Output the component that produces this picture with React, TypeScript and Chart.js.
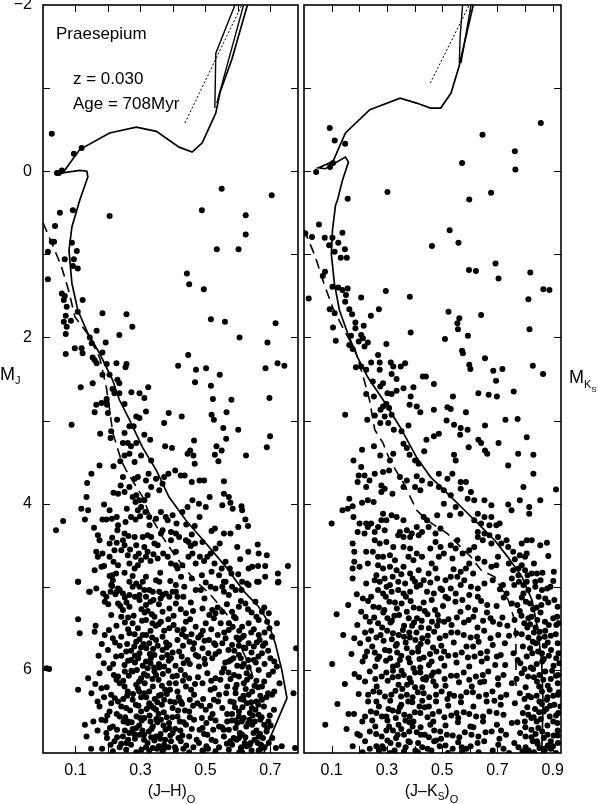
import React, { useEffect, useRef } from "react";
import { Chart, registerables } from "chart.js";

Chart.register(...registerables);

const FONT = '"Liberation Sans", Arial, Helvetica, sans-serif';

// ---- axes ----
const magMin = -2;
const magMax = 7;
const jhMin = 0;
const jhMax = 0.785;
const jkMin = 0;
const jkMax = 0.93;
const magLabelTicks = [-2, 0, 2, 4, 6];
const magMinorTicks = [-1, 0, 1, 2, 3, 4, 5, 6];
const jhLabelTicks = [0.1, 0.3, 0.5, 0.7];
const jhMinorTicks = [0.1, 0.2, 0.3, 0.4, 0.5, 0.6, 0.7];
const jkLabelTicks = [0.1, 0.3, 0.5, 0.7, 0.9];
const jkMinorTicks = [0.1, 0.2, 0.3, 0.4, 0.5, 0.6, 0.7, 0.8, 0.9];

// ---- isochrones (J-H, M_J) ----
const jhIsochrone = [
  [0.674, 7.05], [0.751, 6.34], [0.735, 6.0], [0.715, 5.68], [0.69, 5.4], [0.664, 5.24], [0.624, 5.08],
  [0.593, 4.92], [0.563, 4.76], [0.5, 4.47], [0.44, 4.2], [0.388, 3.92], [0.349, 3.6], [0.306, 3.32],
  [0.266, 2.99], [0.235, 2.75], [0.214, 2.51], [0.174, 2.19], [0.138, 1.95], [0.107, 1.67], [0.089, 1.35],
  [0.08, 0.95], [0.089, 0.67], [0.113, 0.35], [0.138, 0.07], [0.135, 0.0], [0.113, -0.01], [0.061, 0.02],
  [0.113, -0.26], [0.205, -0.46], [0.287, -0.53], [0.349, -0.48], [0.419, -0.29], [0.459, -0.23],
  [0.49, -0.34], [0.532, -0.7], [0.545, -0.95], [0.581, -1.34], [0.633, -2.05],
];
const jhLoopA = [[0.529, -0.76], [0.532, -1.42], [0.596, -2.05]];
const jhLoopB = [[0.535, -0.82], [0.621, -2.05]];
const jhDotted = [[0.437, -0.58], [0.612, -2.0]];
const jhZams = [
  [0.0, 0.62], [0.032, 0.91], [0.057, 1.15], [0.08, 1.45], [0.098, 1.75], [0.14, 1.97], [0.175, 2.25],
  [0.195, 2.6], [0.205, 2.87], [0.215, 3.15], [0.241, 3.48], [0.256, 3.6], [0.307, 3.92], [0.327, 4.12],
  [0.368, 4.4], [0.409, 4.64], [0.47, 4.94], [0.49, 5.0], [0.521, 5.12], [0.572, 5.36], [0.593, 5.6],
  [0.633, 5.92], [0.648, 6.1],
];

// ---- isochrones (J-Ks, M_Ks) ----
const jkIsochrone = [
  [0.86, 7.05], [0.865, 6.4], [0.86, 5.9], [0.845, 5.5], [0.825, 5.16], [0.789, 4.88], [0.737, 4.64],
  [0.69, 4.44], [0.627, 4.23], [0.569, 4.04], [0.517, 3.87], [0.458, 3.68], [0.407, 3.44], [0.348, 3.08],
  [0.286, 2.75], [0.231, 2.48], [0.194, 2.24], [0.158, 1.95], [0.128, 1.67], [0.11, 1.35], [0.099, 1.0],
  [0.103, 0.71], [0.114, 0.41], [0.121, 0.35], [0.139, 0.11], [0.161, -0.11], [0.15, -0.17], [0.103, -0.08],
  [0.077, -0.03], [0.052, -0.04], [0.08, -0.08], [0.105, -0.12], [0.15, -0.46], [0.238, -0.74],
  [0.348, -0.88], [0.407, -0.82], [0.458, -0.76], [0.495, -0.76], [0.532, -0.94], [0.561, -1.26],
  [0.616, -2.05],
];
const jkLoopA = [[0.562, -1.3], [0.565, -1.62], [0.575, -2.05]];
const jkLoopB = [[0.568, -1.3], [0.607, -2.05]];
const jkDotted = [[0.457, -1.06], [0.598, -2.0]];
const jkZams = [
  [0.0, 0.7], [0.04, 1.02], [0.072, 1.35], [0.105, 1.65], [0.148, 1.93], [0.185, 2.15], [0.215, 2.48],
  [0.237, 2.75], [0.256, 3.11], [0.286, 3.27], [0.311, 3.48], [0.36, 3.75], [0.408, 4.08], [0.445, 4.2],
  [0.482, 4.28], [0.519, 4.36], [0.567, 4.52], [0.604, 4.64], [0.641, 4.8], [0.69, 4.88], [0.739, 5.16],
  [0.762, 5.4], [0.767, 5.7], [0.767, 6.25],
];

// ---- stars: (J-H)o, M_J ----
const jhStars = [
  [0.027, -0.45], [0.095, -0.21], [0.119, -0.28], [0.043, 0.02], [0.049, 0.02], [0.058, -0.01], [0.55, 0.21], [0.704, 0.29],
  [0.052, 0.5], [0.092, 0.47], [0.205, 0.54], [0.037, 0.66], [0.027, 0.85], [0.034, 0.85], [0.015, 0.97], [0.089, 0.86],
  [0.104, 0.96], [0.067, 1.06], [0.095, 1.06], [0.092, 1.14], [0.107, 1.17], [0.015, 1.3], [0.058, 1.47], [0.067, 1.5],
  [0.064, 1.55], [0.073, 1.63], [0.122, 1.55], [0.107, 1.69], [0.183, 1.71], [0.257, 1.72], [0.07, 1.74], [0.064, 1.81],
  [0.086, 1.8], [0.073, 1.87], [0.07, 1.96], [0.165, 1.92], [0.275, 1.87], [0.235, 1.97], [0.144, 2.0], [0.193, 2.06],
  [0.15, 2.07], [0.098, 2.13], [0.119, 2.13], [0.122, 2.19], [0.07, 2.2], [0.183, 2.18], [0.153, 2.24], [0.159, 2.27],
  [0.165, 2.31], [0.226, 2.31], [0.257, 2.32], [0.254, 2.36], [0.196, 2.32], [0.183, 2.45], [0.205, 2.45], [0.229, 2.51],
  [0.235, 2.55], [0.153, 2.55], [0.116, 2.6], [0.214, 2.62], [0.22, 2.67], [0.272, 2.66], [0.297, 2.67], [0.324, 2.6],
  [0.235, 2.67], [0.312, 2.73], [0.196, 2.74],
  [0.489, 0.47], [0.624, 0.53], [0.624, 0.76], [0.535, 0.94], [0.602, 0.94], [0.443, 1.23], [0.45, 1.36], [0.495, 1.42],
  [0.517, 1.78], [0.56, 1.81], [0.605, 2.0], [0.716, 1.83], [0.691, 2.06], [0.447, 2.21], [0.416, 2.34], [0.471, 2.39],
  [0.502, 2.37], [0.544, 2.45], [0.468, 2.54], [0.517, 2.58], [0.685, 2.37], [0.722, 2.31], [0.743, 2.34], [0.523, 2.74],
  [0.58, 2.75], [0.697, 2.73],
  [0.164, 2.81], [0.18, 2.79], [0.195, 2.77], [0.197, 2.81], [0.159, 2.9], [0.2, 2.91], [0.251, 2.8], [0.317, 2.89],
  [0.287, 2.95], [0.297, 2.97], [0.228, 2.99], [0.373, 3.03], [0.387, 2.91], [0.427, 2.95], [0.519, 2.93], [0.526, 2.99],
  [0.565, 2.9], [0.088, 3.05], [0.176, 3.16], [0.21, 3.13], [0.208, 3.21], [0.251, 3.15], [0.266, 3.07], [0.279, 3.07],
  [0.312, 3.17], [0.33, 3.23], [0.376, 3.31], [0.397, 3.33], [0.465, 3.24], [0.601, 3.11], [0.555, 3.09], [0.699, 3.19],
  [0.689, 3.32], [0.564, 3.22], [0.534, 3.31], [0.55, 3.36], [0.529, 3.41], [0.54, 3.49], [0.463, 3.42], [0.445, 3.4],
  [0.453, 3.36], [0.467, 3.52], [0.625, 3.42], [0.174, 3.54], [0.217, 3.55], [0.238, 3.49], [0.246, 3.27], [0.261, 3.27],
  [0.271, 3.31], [0.287, 3.27], [0.266, 3.4], [0.282, 3.5], [0.251, 3.42], [0.302, 3.42], [0.333, 3.48], [0.407, 3.6],
  [0.424, 3.66], [0.436, 3.66], [0.386, 3.64], [0.373, 3.68], [0.348, 3.7], [0.325, 3.64], [0.317, 3.72], [0.292, 3.68],
  [0.282, 3.7], [0.246, 3.68], [0.266, 3.8], [0.239, 3.78], [0.251, 3.86], [0.231, 3.88], [0.217, 3.87], [0.276, 3.92],
  [0.287, 3.9], [0.297, 3.96], [0.285, 3.98], [0.292, 4.08], [0.302, 4.04], [0.312, 3.96], [0.322, 3.9], [0.333, 3.8],
  [0.358, 3.84], [0.368, 3.76], [0.149, 3.64], [0.136, 3.75], [0.134, 3.92], [0.118, 4.06], [0.139, 4.08], [0.129, 4.19],
  [0.062, 4.21], [0.04, 4.32], [0.188, 4.01], [0.205, 4.08], [0.227, 4.16], [0.231, 4.26], [0.183, 4.19], [0.195, 4.19],
  [0.254, 4.22], [0.258, 4.06], [0.271, 4.16], [0.299, 4.15], [0.285, 4.19], [0.315, 4.1], [0.327, 4.16], [0.348, 4.18],
  [0.363, 4.1], [0.378, 4.16], [0.384, 4.2], [0.368, 4.32], [0.363, 4.36], [0.399, 4.14], [0.411, 4.24], [0.429, 4.1],
  [0.445, 4.04], [0.46, 3.96], [0.48, 4.0], [0.501, 4.04], [0.513, 3.92], [0.482, 3.72], [0.496, 3.72], [0.458, 3.74],
  [0.557, 3.73], [0.557, 3.88], [0.572, 3.92], [0.577, 3.99], [0.552, 4.02], [0.584, 4.06], [0.611, 4.03], [0.613, 4.08],
  [0.623, 4.19], [0.631, 4.27], [0.601, 4.28], [0.577, 4.36], [0.557, 4.36], [0.529, 4.3], [0.519, 4.33], [0.482, 4.16],
  [0.467, 4.27], [0.458, 4.37], [0.44, 4.44], [0.448, 4.46], [0.468, 4.48], [0.455, 4.51], [0.46, 4.6], [0.448, 4.64],
  [0.47, 4.72], [0.483, 4.64], [0.496, 4.69], [0.506, 4.64], [0.516, 4.6], [0.531, 4.54], [0.519, 4.82], [0.542, 4.86],
  [0.55, 4.78], [0.562, 4.7], [0.575, 4.78], [0.58, 4.84], [0.601, 4.85], [0.598, 4.52], [0.544, 4.48], [0.661, 4.49],
  [0.664, 4.6], [0.633, 4.78], [0.644, 4.76], [0.662, 4.75], [0.684, 4.75], [0.754, 4.75], [0.684, 4.88], [0.723, 4.84],
  [0.723, 4.95], [0.659, 4.94], [0.628, 4.96], [0.611, 5.04], [0.582, 5.0], [0.562, 4.94], [0.552, 5.0], [0.557, 5.06],
  [0.593, 5.04], [0.572, 5.1], [0.47, 5.04], [0.435, 5.0], [0.432, 5.12], [0.409, 5.06], [0.389, 5.12], [0.368, 5.1],
  [0.338, 5.06], [0.358, 4.94], [0.348, 4.92], [0.317, 4.88], [0.307, 4.94], [0.287, 4.96], [0.266, 4.94], [0.276, 5.0],
  [0.297, 5.0], [0.236, 5.04], [0.227, 5.06], [0.21, 4.98], [0.205, 4.87], [0.213, 4.86], [0.225, 4.84], [0.231, 4.74],
  [0.217, 4.7], [0.205, 4.64], [0.188, 4.75], [0.169, 4.64], [0.164, 4.58], [0.183, 4.6], [0.169, 4.38], [0.174, 4.44],
  [0.205, 4.48], [0.213, 4.41], [0.227, 4.47], [0.246, 4.44], [0.251, 4.5], [0.241, 4.56], [0.22, 4.56], [0.261, 4.62],
  [0.266, 4.72], [0.282, 4.78], [0.292, 4.74], [0.302, 4.68], [0.285, 4.64], [0.295, 4.6], [0.317, 4.64], [0.322, 4.58],
  [0.312, 4.52], [0.343, 4.48], [0.353, 4.5], [0.333, 4.4], [0.322, 4.38], [0.307, 4.4], [0.282, 4.4], [0.263, 4.39],
  [0.251, 4.36], [0.287, 4.5], [0.34, 4.61], [0.353, 4.66], [0.37, 4.6], [0.384, 4.64], [0.394, 4.72], [0.409, 4.74],
  [0.414, 4.78], [0.429, 4.74], [0.409, 4.58], [0.394, 4.44], [0.394, 4.34], [0.409, 4.36], [0.419, 4.4], [0.108, 4.94],
  [0.142, 5.06], [0.164, 5.02], [0.185, 5.08], [0.208, 5.06], [0.195, 5.12], [0.159, 4.8], [0.18, 4.76], [0.215, 4.92],
  [0.231, 5.02], [0.246, 5.08], [0.266, 5.1], [0.297, 5.1], [0.317, 5.12], [0.327, 5.04],
  [0.108, 4.94], [0.144, 5.06], [0.213, 4.99], [0.312, 5.04], [0.358, 5.06], [0.378, 5.08], [0.399, 5.06], [0.409, 4.98],
  [0.414, 5.12], [0.486, 5.04], [0.516, 5.0], [0.531, 5.02], [0.557, 4.94], [0.613, 4.94], [0.633, 4.98], [0.664, 4.94],
  [0.725, 4.94], [0.72, 5.44], [0.779, 5.74],
  [0.19, 5.18], [0.231, 5.2], [0.246, 5.28], [0.266, 5.24], [0.297, 5.16], [0.317, 5.22], [0.34, 5.16], [0.368, 5.3],
  [0.389, 5.26], [0.409, 5.2], [0.44, 5.32], [0.491, 5.26], [0.531, 5.32], [0.552, 5.3], [0.582, 5.3], [0.603, 5.24],
  [0.623, 5.2], [0.654, 5.18], [0.674, 5.3], [0.695, 5.32],
  [0.108, 5.39], [0.159, 5.54], [0.21, 5.34], [0.241, 5.36], [0.276, 5.44], [0.292, 5.5], [0.317, 5.4], [0.343, 5.36],
  [0.363, 5.42], [0.389, 5.5], [0.414, 5.52], [0.44, 5.42], [0.47, 5.48], [0.501, 5.44], [0.526, 5.38], [0.547, 5.44],
  [0.572, 5.44], [0.593, 5.38], [0.613, 5.48], [0.633, 5.44], [0.664, 5.4], [0.69, 5.42],
  [0.113, 5.56], [0.19, 5.58], [0.215, 5.62], [0.241, 5.6], [0.266, 5.56], [0.287, 5.66], [0.307, 5.58], [0.327, 5.68],
  [0.348, 5.64], [0.368, 5.6], [0.389, 5.7], [0.414, 5.64], [0.44, 5.6], [0.465, 5.68], [0.486, 5.58], [0.511, 5.64],
  [0.531, 5.7], [0.562, 5.62], [0.582, 5.7], [0.603, 5.64], [0.633, 5.68], [0.664, 5.58], [0.684, 5.68], [0.705, 5.6],
  [0.2, 5.76], [0.225, 5.84], [0.256, 5.78], [0.271, 5.88], [0.297, 5.8], [0.317, 5.9], [0.343, 5.82], [0.368, 5.76],
  [0.394, 5.86], [0.419, 5.78], [0.445, 5.88], [0.47, 5.82], [0.491, 5.74], [0.521, 5.86], [0.542, 5.78], [0.572, 5.9],
  [0.603, 5.82], [0.623, 5.74], [0.649, 5.88], [0.674, 5.8], [0.7, 5.86],
  [0.011, 5.98], [0.019, 5.99], [0.139, 6.1], [0.174, 6.04], [0.205, 5.98], [0.231, 6.08], [0.251, 5.94], [0.276, 6.02],
  [0.302, 6.1], [0.322, 5.98], [0.348, 6.06], [0.373, 5.96], [0.399, 6.08], [0.424, 6.0], [0.45, 6.1], [0.48, 5.96],
  [0.506, 6.04], [0.531, 6.1], [0.557, 5.98], [0.588, 6.06], [0.613, 5.96], [0.639, 6.08], [0.664, 6.0], [0.695, 6.06],
  [0.72, 5.96],
  [0.108, 6.24], [0.149, 6.28], [0.18, 6.22], [0.21, 6.3], [0.236, 6.16], [0.261, 6.26], [0.287, 6.18], [0.312, 6.28],
  [0.338, 6.2], [0.363, 6.3], [0.389, 6.16], [0.414, 6.26], [0.44, 6.2], [0.465, 6.3], [0.491, 6.16], [0.516, 6.24],
  [0.542, 6.3], [0.567, 6.2], [0.593, 6.28], [0.618, 6.16], [0.644, 6.26], [0.674, 6.2], [0.705, 6.3], [0.771, 6.28],
  [0.174, 6.44], [0.205, 6.5], [0.231, 6.38], [0.256, 6.46], [0.276, 6.36], [0.302, 6.5], [0.327, 6.4], [0.348, 6.48],
  [0.373, 6.36], [0.399, 6.46], [0.424, 6.38], [0.45, 6.5], [0.475, 6.4], [0.501, 6.48], [0.526, 6.36], [0.552, 6.46],
  [0.577, 6.38], [0.603, 6.5], [0.628, 6.4], [0.654, 6.48], [0.674, 6.36],
  [0.129, 6.66], [0.18, 6.6], [0.215, 6.68], [0.236, 6.56], [0.261, 6.64], [0.287, 6.7], [0.312, 6.58], [0.338, 6.68],
  [0.363, 6.6], [0.389, 6.7], [0.414, 6.56], [0.44, 6.66], [0.465, 6.6], [0.491, 6.7], [0.516, 6.58], [0.542, 6.68],
  [0.567, 6.62], [0.593, 6.7], [0.618, 6.58], [0.644, 6.66], [0.669, 6.6], [0.69, 6.7],
  [0.134, 6.8], [0.195, 6.76], [0.22, 6.86], [0.246, 6.8], [0.271, 6.9], [0.297, 6.78], [0.322, 6.88], [0.348, 6.8],
  [0.373, 6.9], [0.399, 6.76], [0.424, 6.86], [0.45, 6.8], [0.48, 6.88], [0.506, 6.78], [0.531, 6.86], [0.557, 6.8],
  [0.582, 6.9], [0.613, 6.78], [0.639, 6.88], [0.664, 6.8], [0.695, 6.88], [0.735, 6.92],
  [0.215, 6.98], [0.256, 6.96], [0.287, 6.99], [0.327, 6.97], [0.368, 6.98], [0.409, 6.96], [0.45, 6.99], [0.491, 6.97],
  [0.531, 6.98], [0.572, 6.96], [0.613, 6.99], [0.664, 6.97], [0.776, 6.94],
  [0.252, 5.13], [0.303, 5.27], [0.335, 5.33], [0.357, 5.21], [0.402, 5.35], [0.455, 5.19], [0.512, 5.34], [0.538, 5.25],
  [0.609, 5.17], [0.642, 5.31], [0.226, 5.47], [0.262, 5.51], [0.331, 5.53], [0.356, 5.45], [0.428, 5.57], [0.492, 5.53],
  [0.558, 5.55], [0.618, 5.59], [0.682, 5.55], [0.236, 5.71], [0.281, 5.72], [0.309, 5.69], [0.339, 5.75], [0.381, 5.73],
  [0.431, 5.71], [0.462, 5.75], [0.509, 5.8], [0.589, 5.77], [0.642, 5.79], [0.216, 5.93], [0.262, 5.89], [0.289, 6.0],
  [0.332, 5.86], [0.357, 5.93], [0.387, 5.89], [0.452, 5.93], [0.497, 5.87], [0.598, 5.95], [0.632, 5.88], [0.682, 5.93],
  [0.196, 6.21], [0.226, 6.12], [0.251, 6.2], [0.296, 6.14], [0.327, 6.26], [0.356, 6.12], [0.376, 6.24], [0.431, 6.13],
  [0.456, 6.24], [0.528, 6.22], [0.577, 6.11], [0.624, 6.23], [0.657, 6.13], [0.688, 6.33], [0.21, 6.4], [0.247, 6.35],
  [0.286, 6.42], [0.318, 6.33], [0.341, 6.46], [0.366, 6.42], [0.392, 6.38], [0.462, 6.43], [0.514, 6.43], [0.591, 6.45],
  [0.617, 6.36], [0.643, 6.46], [0.68, 6.44], [0.192, 6.61], [0.228, 6.72], [0.248, 6.62], [0.276, 6.71], [0.299, 6.58],
  [0.326, 6.74], [0.352, 6.63], [0.377, 6.72], [0.433, 6.63], [0.503, 6.64], [0.556, 6.72], [0.581, 6.61], [0.606, 6.76],
  [0.632, 6.64], [0.657, 6.73], [0.681, 6.66], [0.208, 6.9], [0.236, 6.93], [0.262, 6.84], [0.311, 6.84], [0.338, 6.94],
  [0.361, 6.83], [0.386, 6.93], [0.417, 6.82], [0.463, 6.93], [0.519, 6.84], [0.596, 6.84], [0.627, 6.92], [0.651, 6.84],
  [0.682, 6.93], [0.706, 6.82],
  [0.238, 5.23], [0.262, 5.37], [0.283, 5.12], [0.305, 5.41], [0.322, 5.29], [0.347, 5.47], [0.362, 5.14], [0.318, 5.58],
  [0.353, 5.71], [0.297, 5.63], [0.271, 5.77], [0.329, 5.81], [0.358, 5.97], [0.311, 6.05], [0.283, 5.91], [0.247, 6.13],
  [0.337, 6.11], [0.366, 6.19], [0.302, 6.33], [0.268, 6.49], [0.328, 6.55], [0.357, 6.31], [0.381, 6.57], [0.296, 6.67],
  [0.343, 6.85], [0.317, 6.93], [0.266, 6.76], [0.241, 6.89], [0.392, 6.79], [0.372, 6.95],
  [0.572, 5.52], [0.596, 5.61], [0.618, 5.73], [0.641, 5.55], [0.658, 5.67], [0.677, 5.71], [0.609, 5.86], [0.633, 5.97],
  [0.655, 5.91], [0.571, 6.03], [0.596, 6.18], [0.617, 6.31], [0.641, 6.39], [0.662, 6.21], [0.587, 6.39], [0.603, 6.56],
  [0.626, 6.68], [0.646, 6.55], [0.668, 6.77], [0.587, 6.82], [0.611, 6.93], [0.642, 6.97], [0.661, 6.88], [0.688, 6.74],
  [0.551, 6.69], [0.566, 6.89], [0.623, 6.81], [0.698, 6.55], [0.712, 6.26], [0.708, 6.02],
  [0.453, 5.39], [0.478, 5.61], [0.427, 5.84], [0.468, 6.17], [0.493, 6.35], [0.437, 6.49], [0.482, 6.72], [0.441, 6.91],
  [0.503, 6.92], [0.522, 6.53], [0.546, 6.12], [0.527, 5.68], [0.499, 5.93], [0.418, 6.33], [0.407, 6.71],
  [0.162, 5.47], [0.171, 5.83], [0.188, 6.33], [0.155, 6.62], [0.197, 6.82], [0.148, 6.95], [0.201, 5.21],
  [0.223, 5.09], [0.257, 5.19], [0.279, 5.35], [0.313, 5.31], [0.331, 5.18], [0.386, 5.39], [0.424, 5.27], [0.462, 5.29],
  [0.497, 5.14], [0.521, 5.28], [0.566, 5.21], [0.588, 5.36], [0.631, 5.27], [0.657, 5.36], [0.681, 5.25],
  [0.203, 5.52], [0.252, 5.43], [0.282, 5.57], [0.337, 5.44], [0.373, 5.53], [0.402, 5.46], [0.433, 5.51], [0.457, 5.57],
  [0.518, 5.51], [0.538, 5.58], [0.584, 5.48], [0.604, 5.53], [0.649, 5.51], [0.697, 5.5],
  [0.181, 5.69], [0.222, 5.67], [0.259, 5.69], [0.302, 5.73], [0.336, 5.61], [0.379, 5.67], [0.399, 5.79], [0.451, 5.66],
  [0.497, 5.65], [0.552, 5.68], [0.571, 5.76], [0.612, 5.61], [0.667, 5.64], [0.693, 5.77],
  [0.187, 5.92], [0.241, 5.83], [0.283, 5.83], [0.307, 5.95], [0.331, 5.92], [0.382, 5.82], [0.408, 5.95], [0.433, 5.92],
  [0.478, 5.84], [0.531, 5.81], [0.561, 5.91], [0.586, 5.86], [0.618, 5.93], [0.663, 5.84], [0.712, 5.9],
  [0.161, 6.17], [0.218, 6.06], [0.264, 6.07], [0.292, 6.22], [0.313, 6.16], [0.343, 6.02], [0.386, 6.01], [0.409, 6.16],
  [0.437, 6.06], [0.477, 6.09], [0.518, 6.13], [0.551, 6.03], [0.603, 6.08], [0.628, 6.12], [0.681, 6.14], [0.728, 6.16],
  [0.168, 6.38], [0.221, 6.34], [0.259, 6.31], [0.294, 6.43], [0.333, 6.43], [0.352, 6.39], [0.381, 6.29], [0.406, 6.39],
  [0.452, 6.36], [0.487, 6.43], [0.539, 6.38], [0.564, 6.28], [0.608, 6.35], [0.633, 6.3], [0.663, 6.42], [0.693, 6.28],
  [0.198, 6.55], [0.227, 6.53], [0.253, 6.57], [0.288, 6.56], [0.319, 6.47], [0.349, 6.59], [0.372, 6.51], [0.416, 6.49],
  [0.452, 6.57], [0.489, 6.58], [0.531, 6.61], [0.567, 6.53], [0.612, 6.62], [0.637, 6.52], [0.664, 6.54], [0.711, 6.48],
  [0.168, 6.73], [0.206, 6.7], [0.252, 6.73], [0.273, 6.63], [0.306, 6.73], [0.331, 6.62], [0.362, 6.77], [0.388, 6.64],
  [0.423, 6.73], [0.458, 6.71], [0.496, 6.77], [0.524, 6.72], [0.572, 6.72], [0.598, 6.64], [0.652, 6.62], [0.677, 6.82],
  [0.701, 6.67], [0.182, 6.95], [0.228, 6.81], [0.257, 6.88], [0.283, 6.83], [0.303, 6.96], [0.333, 6.81], [0.357, 6.92],
  [0.394, 6.86], [0.432, 6.95], [0.473, 6.84], [0.508, 6.95], [0.542, 6.93], [0.577, 6.86], [0.603, 6.82], [0.636, 6.9],
  [0.671, 6.95], [0.717, 6.94],
  [0.229, 4.32], [0.268, 4.55], [0.331, 4.69], [0.361, 4.83], [0.392, 4.93], [0.425, 4.88], [0.458, 4.9], [0.489, 4.86],
  [0.501, 4.95], [0.528, 4.72], [0.607, 4.67], [0.632, 4.58], [0.251, 4.83], [0.276, 4.87], [0.157, 4.29], [0.212, 4.18],
  [0.328, 4.26], [0.441, 4.25], [0.491, 4.46], [0.689, 4.62],
  [0.272, 6.01], [0.296, 6.26], [0.321, 6.07], [0.344, 6.35], [0.369, 6.05], [0.391, 6.24], [0.412, 6.07], [0.428, 6.41],
  [0.304, 6.61], [0.327, 6.44], [0.356, 6.53], [0.371, 6.67], [0.398, 6.57], [0.421, 6.62], [0.281, 6.77], [0.311, 6.78],
  [0.334, 6.71], [0.351, 6.95], [0.376, 6.84], [0.406, 6.93], [0.429, 6.79], [0.263, 6.62], [0.241, 6.44], [0.277, 6.29],
  [0.252, 6.02], [0.293, 5.86], [0.342, 5.97], [0.366, 5.85], [0.318, 5.74],
  [0.592, 6.22], [0.614, 6.45], [0.636, 6.6], [0.657, 6.38], [0.673, 6.57], [0.593, 6.61], [0.621, 6.88], [0.648, 6.76],
  [0.671, 6.9], [0.694, 6.62], [0.604, 6.99], [0.582, 6.53], [0.651, 6.19], [0.627, 6.04], [0.669, 6.31], [0.578, 5.88],
  [0.603, 5.71], [0.649, 5.72],
];

// ---- stars: (J-Ks)o, M_Ks ----
const jkStars = [
  [0.093, -0.52], [0.111, -0.37], [0.149, -0.33], [0.044, 0.01], [0.094, -0.05], [0.105, -0.1], [0.302, 0.25], [0.158, 0.33],
  [0.572, -0.1], [0.646, -0.44], [0.763, -0.24], [0.765, -0.02], [0.857, -0.58], [0.677, 0.26], [0.598, 0.34],
  [0.054, 0.64], [0.005, 0.75], [0.029, 0.79], [0.075, 0.8], [0.103, 0.8], [0.139, 0.74], [0.091, 0.89], [0.124, 0.86],
  [0.111, 0.97], [0.148, 0.94], [0.133, 1.04], [0.155, 1.04], [0.527, 0.71], [0.559, 0.86], [0.463, 0.9], [0.693, 1.11],
  [0.597, 1.19], [0.622, 1.2], [0.704, 1.29], [0.819, 1.22], [0.866, 1.42], [0.888, 1.43], [0.812, 1.54], [0.076, 1.21],
  [0.068, 1.26], [0.017, 1.53], [0.103, 1.39], [0.124, 1.4], [0.139, 1.43], [0.158, 1.41], [0.152, 1.49], [0.149, 1.57],
  [0.207, 1.52], [0.296, 1.44], [0.383, 1.51], [0.093, 1.66], [0.111, 1.71], [0.164, 1.66], [0.174, 1.72], [0.271, 1.66],
  [0.242, 1.74], [0.105, 1.88], [0.186, 1.82], [0.216, 1.86], [0.186, 1.89], [0.17, 1.98], [0.207, 1.97], [0.213, 2.01],
  [0.115, 2.04], [0.164, 2.09], [0.176, 2.14], [0.198, 2.05], [0.219, 2.11], [0.231, 2.06], [0.298, 2.08], [0.386, 1.94],
  [0.523, 1.69], [0.562, 1.77], [0.555, 1.83], [0.557, 1.9], [0.641, 1.73], [0.593, 1.98], [0.51, 2.02], [0.816, 1.9],
  [0.572, 2.16], [0.575, 2.19], [0.655, 2.25], [0.598, 2.33], [0.602, 2.38], [0.685, 2.4], [0.718, 2.38], [0.828, 2.34],
  [0.865, 2.44], [0.695, 2.52], [0.268, 2.21], [0.274, 2.3], [0.243, 2.3], [0.314, 2.3], [0.323, 2.35], [0.35, 2.35],
  [0.366, 2.31], [0.188, 2.36], [0.207, 2.35], [0.225, 2.39], [0.274, 2.39], [0.317, 2.44], [0.335, 2.5], [0.249, 2.53],
  [0.286, 2.55], [0.276, 2.59], [0.43, 2.47], [0.441, 2.47], [0.47, 2.56], [0.36, 2.61], [0.396, 2.6], [0.225, 2.68],
  [0.253, 2.71], [0.302, 2.67], [0.317, 2.68], [0.335, 2.64], [0.386, 2.71], [0.539, 2.71], [0.631, 2.67], [0.668, 2.69],
  [0.698, 2.71], [0.759, 2.65],
  [0.149, 2.93], [0.229, 2.99], [0.256, 2.94], [0.277, 2.87], [0.286, 2.83], [0.298, 2.8], [0.308, 2.85], [0.292, 2.95],
  [0.317, 2.93], [0.276, 3.03], [0.305, 3.03], [0.325, 3.11], [0.353, 3.13], [0.378, 3.06], [0.382, 2.81], [0.408, 2.83],
  [0.421, 2.9], [0.47, 2.87], [0.519, 2.84], [0.531, 2.86], [0.586, 2.9], [0.516, 3.0], [0.543, 3.05], [0.567, 3.09],
  [0.592, 3.11], [0.565, 3.17], [0.488, 3.16], [0.47, 3.19], [0.443, 3.23], [0.655, 3.06], [0.729, 2.99], [0.773, 2.98],
  [0.806, 3.2], [0.775, 3.4], [0.83, 3.41], [0.704, 3.27], [0.631, 3.23], [0.641, 3.27], [0.655, 3.36], [0.663, 3.4],
  [0.596, 3.32], [0.543, 3.41], [0.549, 3.48], [0.739, 3.54], [0.83, 3.64], [0.794, 3.8], [0.912, 3.83], [0.855, 3.96],
  [0.781, 3.96], [0.739, 4.01], [0.815, 4.04], [0.815, 4.12], [0.751, 4.08], [0.21, 3.35], [0.179, 3.48], [0.253, 3.31],
  [0.276, 3.42], [0.311, 3.48], [0.323, 3.4], [0.36, 3.28], [0.372, 3.33], [0.382, 3.41], [0.402, 3.48], [0.415, 3.52],
  [0.435, 3.37], [0.198, 3.66], [0.219, 3.66], [0.237, 3.72], [0.207, 3.56], [0.256, 3.64], [0.286, 3.62], [0.308, 3.6],
  [0.28, 3.78], [0.292, 3.82], [0.28, 3.86], [0.225, 3.8], [0.194, 3.74], [0.164, 3.94], [0.176, 4.03], [0.139, 4.08],
  [0.158, 4.06], [0.1, 4.24], [0.179, 4.16], [0.21, 3.99], [0.231, 3.96], [0.252, 3.98], [0.32, 3.88], [0.36, 3.8],
  [0.347, 3.68], [0.372, 3.72], [0.408, 3.67], [0.427, 3.72], [0.457, 3.76], [0.402, 3.8], [0.421, 3.84], [0.488, 3.64],
  [0.519, 3.7], [0.537, 3.64], [0.567, 3.74], [0.488, 3.8], [0.506, 3.84], [0.531, 3.9], [0.586, 3.74], [0.567, 3.82],
  [0.604, 3.86], [0.592, 3.94], [0.616, 3.96], [0.653, 3.96], [0.678, 4.02], [0.549, 4.04], [0.567, 4.12], [0.506, 4.0],
  [0.528, 4.14], [0.482, 4.14], [0.629, 4.12], [0.653, 4.16], [0.616, 4.2], [0.641, 4.24], [0.678, 4.16], [0.708, 4.24],
  [0.671, 4.26], [0.696, 4.26], [0.629, 4.34], [0.653, 4.36], [0.671, 4.38], [0.629, 4.4], [0.647, 4.44], [0.702, 4.4],
  [0.733, 4.44], [0.678, 4.48], [0.714, 4.48], [0.739, 4.52], [0.757, 4.58], [0.788, 4.48], [0.806, 4.44], [0.824, 4.44],
  [0.855, 4.5], [0.879, 4.47], [0.884, 4.63], [0.781, 4.62], [0.8, 4.64], [0.806, 4.6], [0.763, 4.67], [0.741, 4.72],
  [0.788, 4.74], [0.776, 4.78], [0.8, 4.8], [0.757, 4.8], [0.776, 4.86], [0.809, 4.86], [0.824, 4.84], [0.843, 4.84],
  [0.863, 4.83], [0.904, 4.82], [0.778, 4.94], [0.794, 4.98], [0.761, 4.98], [0.806, 4.94], [0.837, 4.94], [0.812, 5.04],
  [0.837, 5.0], [0.861, 5.04], [0.88, 5.02], [0.892, 5.0], [0.794, 5.08], [0.788, 5.13], [0.849, 5.12], [0.873, 5.14],
  [0.733, 5.08], [0.72, 4.98], [0.653, 4.96], [0.702, 4.64], [0.696, 4.74], [0.653, 4.7], [0.678, 4.76], [0.629, 4.66],
  [0.616, 4.52], [0.598, 4.56], [0.574, 4.6], [0.586, 4.78], [0.598, 4.72], [0.567, 4.82], [0.555, 4.88], [0.58, 4.92],
  [0.567, 4.98], [0.604, 5.0], [0.629, 5.02], [0.549, 5.08], [0.598, 5.1], [0.629, 5.12], [0.531, 5.02], [0.5, 5.04],
  [0.482, 4.9], [0.512, 4.92], [0.531, 4.88], [0.451, 4.84], [0.476, 4.78], [0.488, 4.64], [0.506, 4.6], [0.537, 4.66],
  [0.531, 4.5], [0.555, 4.44], [0.549, 4.54], [0.457, 4.54], [0.476, 4.46], [0.494, 4.52], [0.427, 4.34], [0.451, 4.28],
  [0.476, 4.36], [0.494, 4.3], [0.433, 4.16], [0.445, 4.2], [0.408, 4.28], [0.39, 4.36], [0.415, 4.38], [0.36, 4.2],
  [0.372, 4.32], [0.347, 4.34], [0.335, 4.16], [0.317, 4.14], [0.298, 4.2], [0.286, 4.12], [0.28, 4.2], [0.268, 4.28],
  [0.243, 4.24], [0.231, 4.28], [0.219, 4.36], [0.256, 4.34], [0.292, 4.32], [0.341, 4.38], [0.36, 4.4], [0.384, 4.4],
  [0.201, 4.24], [0.225, 4.24], [0.194, 4.34], [0.176, 4.48], [0.182, 4.58], [0.225, 4.58], [0.249, 4.58], [0.268, 4.64],
  [0.286, 4.64], [0.311, 4.62], [0.329, 4.68], [0.256, 4.44], [0.274, 4.48], [0.298, 4.46], [0.323, 4.52], [0.36, 4.52],
  [0.384, 4.54], [0.408, 4.6], [0.427, 4.64], [0.378, 4.64], [0.396, 4.68], [0.182, 4.7], [0.176, 4.78], [0.201, 4.76],
  [0.231, 4.72], [0.268, 4.74], [0.286, 4.78], [0.311, 4.76], [0.335, 4.8], [0.36, 4.76], [0.384, 4.84], [0.415, 4.8],
  [0.176, 4.9], [0.225, 4.96], [0.256, 4.92], [0.274, 4.94], [0.292, 4.9], [0.311, 4.98], [0.341, 4.94], [0.366, 4.96],
  [0.402, 4.94], [0.433, 4.92], [0.268, 5.04], [0.286, 5.08], [0.317, 5.06], [0.341, 5.04], [0.36, 5.08], [0.384, 5.06],
  [0.408, 5.0], [0.445, 5.06], [0.47, 5.08], [0.494, 5.02], [0.512, 5.12], [0.213, 5.14], [0.243, 5.12],
  [0.16, 5.22], [0.232, 5.17], [0.271, 5.25], [0.309, 5.18], [0.353, 5.2], [0.386, 5.17], [0.418, 5.26], [0.462, 5.16],
  [0.503, 5.23], [0.548, 5.18], [0.594, 5.25], [0.641, 5.17], [0.697, 5.23], [0.752, 5.2], [0.803, 5.18], [0.842, 5.25],
  [0.884, 5.19], [0.918, 5.24], [0.118, 5.33], [0.207, 5.3], [0.254, 5.37], [0.291, 5.28], [0.327, 5.35], [0.372, 5.3],
  [0.409, 5.38], [0.437, 5.29], [0.484, 5.34], [0.523, 5.39], [0.566, 5.3], [0.613, 5.36], [0.662, 5.31], [0.718, 5.37],
  [0.781, 5.29], [0.823, 5.36], [0.856, 5.31], [0.902, 5.38], [0.193, 5.46], [0.238, 5.42], [0.283, 5.49], [0.318, 5.41],
  [0.362, 5.47], [0.398, 5.43], [0.452, 5.5], [0.488, 5.41], [0.534, 5.46], [0.579, 5.43], [0.628, 5.49], [0.684, 5.42],
  [0.736, 5.47], [0.797, 5.44], [0.838, 5.49], [0.872, 5.42], [0.913, 5.46], [0.921, 5.44], [0.142, 5.58], [0.221, 5.55],
  [0.262, 5.61], [0.301, 5.53], [0.343, 5.58], [0.381, 5.55], [0.428, 5.62], [0.471, 5.54], [0.512, 5.59], [0.556, 5.55],
  [0.603, 5.61], [0.652, 5.53], [0.703, 5.58], [0.768, 5.56], [0.812, 5.61], [0.853, 5.54], [0.893, 5.59], [0.203, 5.68],
  [0.247, 5.72], [0.288, 5.65], [0.332, 5.71], [0.368, 5.67], [0.413, 5.73], [0.447, 5.66], [0.497, 5.71], [0.542, 5.67],
  [0.588, 5.72], [0.632, 5.66], [0.683, 5.7], [0.727, 5.68], [0.792, 5.72], [0.828, 5.66], [0.871, 5.71], [0.918, 5.68],
  [0.172, 5.81], [0.228, 5.78], [0.272, 5.84], [0.309, 5.77], [0.352, 5.83], [0.391, 5.79], [0.433, 5.85], [0.479, 5.78],
  [0.522, 5.83], [0.571, 5.79], [0.617, 5.84], [0.663, 5.78], [0.712, 5.82], [0.758, 5.8], [0.806, 5.84], [0.847, 5.78],
  [0.886, 5.83], [0.921, 5.8], [0.102, 5.93], [0.212, 5.9], [0.258, 5.96], [0.297, 5.89], [0.338, 5.94], [0.383, 5.91],
  [0.421, 5.97], [0.462, 5.9], [0.508, 5.95], [0.552, 5.91], [0.598, 5.96], [0.643, 5.9], [0.692, 5.94], [0.783, 5.92],
  [0.821, 5.97], [0.862, 5.9], [0.903, 5.95], [0.183, 6.05], [0.238, 6.02], [0.281, 6.08], [0.322, 6.01], [0.361, 6.06],
  [0.402, 6.03], [0.442, 6.09], [0.487, 6.02], [0.532, 6.07], [0.578, 6.03], [0.622, 6.08], [0.667, 6.02], [0.722, 6.06],
  [0.788, 6.04], [0.832, 6.09], [0.873, 6.02], [0.912, 6.07], [0.148, 6.17], [0.221, 6.14], [0.263, 6.2], [0.303, 6.13],
  [0.342, 6.18], [0.387, 6.15], [0.428, 6.21], [0.468, 6.14], [0.512, 6.19], [0.561, 6.15], [0.607, 6.2], [0.652, 6.14],
  [0.703, 6.18], [0.752, 6.16], [0.802, 6.21], [0.843, 6.14], [0.882, 6.19], [0.918, 6.16], [0.198, 6.29], [0.251, 6.26],
  [0.293, 6.32], [0.331, 6.25], [0.372, 6.3], [0.412, 6.27], [0.453, 6.33], [0.498, 6.26], [0.543, 6.31], [0.588, 6.27],
  [0.633, 6.32], [0.682, 6.26], [0.732, 6.3], [0.781, 6.28], [0.822, 6.33], [0.861, 6.26], [0.902, 6.31], [0.121, 6.41],
  [0.232, 6.38], [0.271, 6.44], [0.312, 6.37], [0.352, 6.42], [0.392, 6.39], [0.437, 6.45], [0.478, 6.38], [0.522, 6.43],
  [0.568, 6.39], [0.613, 6.44], [0.661, 6.38], [0.712, 6.42], [0.763, 6.4], [0.808, 6.45], [0.852, 6.38], [0.891, 6.43],
  [0.928, 6.44], [0.181, 6.53], [0.242, 6.5], [0.282, 6.56], [0.321, 6.49], [0.363, 6.54], [0.401, 6.51], [0.447, 6.57],
  [0.489, 6.5], [0.533, 6.55], [0.578, 6.51], [0.623, 6.56], [0.671, 6.5], [0.722, 6.54], [0.792, 6.52], [0.831, 6.57],
  [0.868, 6.5], [0.912, 6.55], [0.077, 6.66], [0.154, 6.71], [0.211, 6.62], [0.258, 6.68], [0.302, 6.61], [0.342, 6.66],
  [0.381, 6.63], [0.422, 6.69], [0.468, 6.62], [0.512, 6.67], [0.557, 6.63], [0.602, 6.68], [0.648, 6.62], [0.698, 6.66],
  [0.752, 6.64], [0.801, 6.69], [0.842, 6.62], [0.881, 6.67], [0.917, 6.64], [0.193, 6.77], [0.238, 6.74], [0.281, 6.8],
  [0.322, 6.73], [0.362, 6.78], [0.408, 6.75], [0.452, 6.81], [0.493, 6.74], [0.538, 6.79], [0.582, 6.75], [0.631, 6.8],
  [0.679, 6.74], [0.731, 6.78], [0.782, 6.76], [0.823, 6.81], [0.862, 6.74], [0.903, 6.79], [0.176, 6.92], [0.221, 6.86],
  [0.262, 6.92], [0.302, 6.85], [0.342, 6.9], [0.383, 6.87], [0.428, 6.93], [0.471, 6.86], [0.512, 6.91], [0.558, 6.87],
  [0.603, 6.92], [0.652, 6.86], [0.703, 6.9], [0.761, 6.88], [0.802, 6.93], [0.843, 6.86], [0.882, 6.91], [0.919, 6.88],
  [0.212, 6.99], [0.271, 6.97], [0.313, 7.0], [0.362, 6.98], [0.412, 6.99], [0.461, 6.97], [0.521, 7.0], [0.572, 6.98],
  [0.632, 6.99], [0.683, 6.97], [0.742, 7.0], [0.791, 6.98], [0.832, 6.99], [0.871, 6.97], [0.912, 7.0],
  [0.287, 5.31], [0.313, 5.43], [0.336, 5.26], [0.358, 5.52], [0.379, 5.38], [0.403, 5.64], [0.424, 5.49], [0.447, 5.33],
  [0.318, 5.63], [0.293, 5.76], [0.347, 5.88], [0.372, 5.74], [0.396, 5.98], [0.418, 5.87], [0.441, 6.12], [0.321, 6.09],
  [0.356, 6.23], [0.377, 6.38], [0.306, 6.47], [0.332, 6.58], [0.396, 6.62], [0.418, 6.44], [0.352, 6.71], [0.378, 6.86],
  [0.313, 6.88], [0.437, 6.78], [0.289, 6.95], [0.403, 6.97], [0.262, 6.38], [0.247, 6.61], [0.266, 5.87], [0.243, 5.53],
  [0.787, 5.35], [0.808, 5.49], [0.829, 5.27], [0.851, 5.62], [0.873, 5.53], [0.894, 5.76], [0.818, 5.74], [0.798, 5.99],
  [0.842, 5.93], [0.866, 6.12], [0.889, 6.24], [0.812, 6.31], [0.836, 6.47], [0.857, 6.59], [0.879, 6.36], [0.902, 6.62],
  [0.823, 6.72], [0.845, 6.89], [0.868, 6.82], [0.893, 6.95], [0.813, 6.97], [0.918, 6.79], [0.922, 6.27], [0.924, 5.92],
  [0.772, 6.63], [0.769, 6.11],
  [0.482, 5.47], [0.507, 5.78], [0.527, 6.29], [0.552, 6.52], [0.496, 6.83], [0.571, 6.93], [0.613, 6.69], [0.638, 6.15],
  [0.612, 5.72], [0.662, 5.86], [0.689, 6.37], [0.707, 6.83], [0.728, 5.94], [0.675, 5.38], [0.468, 6.03],
  [0.262, 4.86], [0.299, 5.0], [0.321, 4.88], [0.352, 4.85], [0.393, 4.9], [0.421, 4.98], [0.457, 4.95], [0.462, 4.72],
  [0.541, 4.79], [0.612, 4.84], [0.683, 4.92], [0.709, 5.03], [0.752, 4.9], [0.832, 4.72], [0.856, 4.92], [0.902, 4.93],
  [0.191, 5.09], [0.251, 5.24], [0.296, 5.12], [0.329, 5.19], [0.369, 5.12], [0.397, 5.25], [0.433, 5.19], [0.474, 5.28],
  [0.521, 5.14], [0.573, 5.16], [0.619, 5.28], [0.663, 5.22], [0.723, 5.13], [0.772, 5.22], [0.818, 5.2], [0.859, 5.22],
  [0.906, 5.16], [0.223, 5.36], [0.268, 5.44], [0.302, 5.38], [0.344, 5.34], [0.391, 5.47], [0.426, 5.41], [0.463, 5.42],
  [0.507, 5.42], [0.553, 5.37], [0.596, 5.4], [0.648, 5.41], [0.708, 5.45], [0.762, 5.4], [0.812, 5.38], [0.844, 5.4],
  [0.886, 5.46], [0.916, 5.36], [0.182, 5.62], [0.233, 5.63], [0.277, 5.58], [0.322, 5.56], [0.362, 5.6], [0.407, 5.55],
  [0.448, 5.59], [0.491, 5.62], [0.533, 5.55], [0.578, 5.58], [0.626, 5.6], [0.675, 5.62], [0.742, 5.59], [0.788, 5.57],
  [0.832, 5.55], [0.871, 5.6], [0.911, 5.57], [0.221, 5.84], [0.256, 5.79], [0.312, 5.86], [0.337, 5.79], [0.378, 5.86],
  [0.413, 5.78], [0.456, 5.81], [0.496, 5.86], [0.548, 5.82], [0.593, 5.85], [0.639, 5.8], [0.698, 5.84], [0.773, 5.88],
  [0.826, 5.8], [0.868, 5.87], [0.913, 5.86], [0.199, 6.09], [0.258, 6.11], [0.298, 6.03], [0.341, 6.08], [0.382, 6.1],
  [0.421, 6.03], [0.461, 6.07], [0.509, 6.11], [0.553, 6.07], [0.598, 6.12], [0.647, 6.06], [0.702, 6.1], [0.811, 6.08],
  [0.852, 6.06], [0.893, 6.11], [0.92, 6.06], [0.232, 6.3], [0.273, 6.27], [0.316, 6.3], [0.351, 6.32], [0.393, 6.33],
  [0.433, 6.28], [0.478, 6.3], [0.519, 6.35], [0.568, 6.32], [0.611, 6.27], [0.659, 6.3], [0.712, 6.33], [0.798, 6.35],
  [0.842, 6.31], [0.881, 6.33], [0.919, 6.3], [0.161, 6.53], [0.221, 6.56], [0.262, 6.52], [0.298, 6.56], [0.341, 6.5],
  [0.383, 6.56], [0.421, 6.52], [0.466, 6.53], [0.508, 6.57], [0.558, 6.58], [0.598, 6.53], [0.648, 6.56], [0.697, 6.52],
  [0.812, 6.54], [0.851, 6.51], [0.889, 6.56], [0.92, 6.52], [0.202, 6.79], [0.261, 6.77], [0.298, 6.73], [0.339, 6.78],
  [0.381, 6.74], [0.423, 6.78], [0.471, 6.73], [0.517, 6.78], [0.562, 6.81], [0.606, 6.78], [0.657, 6.75], [0.713, 6.73],
  [0.802, 6.8], [0.838, 6.77], [0.881, 6.78], [0.918, 6.73], [0.238, 6.95], [0.283, 6.92], [0.328, 6.97], [0.368, 6.93],
  [0.447, 6.95], [0.491, 6.92], [0.538, 6.95], [0.588, 6.95], [0.628, 6.88], [0.722, 6.95], [0.776, 6.93], [0.852, 6.94],
  [0.901, 6.92],
  [0.322, 5.96], [0.353, 6.01], [0.373, 6.18], [0.402, 6.21], [0.428, 6.37], [0.452, 6.44], [0.347, 6.45], [0.367, 6.61],
  [0.393, 6.68], [0.413, 6.88], [0.457, 6.66], [0.478, 6.85], [0.333, 6.82], [0.308, 6.68], [0.431, 6.11], [0.452, 5.94],
  [0.477, 6.19], [0.336, 5.69], [0.383, 5.61], [0.422, 5.69], [0.467, 5.73],
  [0.818, 5.45], [0.839, 5.68], [0.861, 5.8], [0.882, 5.67], [0.829, 5.99], [0.851, 6.2], [0.877, 6.47], [0.823, 6.58],
  [0.848, 6.7], [0.871, 6.95], [0.893, 6.86], [0.828, 6.86], [0.799, 6.62], [0.861, 6.41], [0.906, 6.42], [0.898, 6.01],
];

type Pt = number[];
interface TextPart { t: string; size: number; dy: number; }
interface TextItem { parts: TextPart[]; x: number; y: number; align: "left" | "center"; }
interface LineSpec { pts: Pt[]; width: number; dash: number[]; }

function drawParts(ctx: CanvasRenderingContext2D, item: TextItem) {
  const widths = item.parts.map((p) => {
    ctx.font = `${p.size}px ${FONT}`;
    return ctx.measureText(p.t).width;
  });
  const total = widths.reduce((a, b) => a + b, 0);
  let cx = item.align === "center" ? item.x - total / 2 : item.x;
  item.parts.forEach((p, i) => {
    ctx.font = `${p.size}px ${FONT}`;
    ctx.fillText(p.t, cx, item.y + p.dy);
    cx += widths[i];
  });
}

interface PanelProps {
  left: number;
  width: number;
  xMin: number;
  xMax: number;
  xLabels: number[];
  xMinor: number[];
  stars: Pt[];
  lines: LineSpec[];
  padLeft: number;
  padRight: number;
  showY: boolean;
  texts: TextItem[];
}

function Panel(p: PanelProps) {
  const ref = useRef<HTMLCanvasElement | null>(null);
  useEffect(() => {
    const canvas = ref.current;
    if (!canvas) return;
    const frame = {
      id: "frame",
      afterDraw(chart: any) {
        const ctx = chart.ctx as CanvasRenderingContext2D;
        const a = chart.chartArea;
        const xs = chart.scales.x;
        const ys = chart.scales.y;
        const tl = 7;
        ctx.save();
        ctx.strokeStyle = "#000";
        ctx.lineWidth = 1;
        ctx.beginPath();
        p.xMinor.forEach((v) => {
          const px = Math.round(xs.getPixelForValue(v)) + 0.5;
          ctx.moveTo(px, a.bottom);
          ctx.lineTo(px, a.bottom - tl);
          ctx.moveTo(px, a.top);
          ctx.lineTo(px, a.top + tl);
        });
        magMinorTicks.forEach((v) => {
          const py = Math.round(ys.getPixelForValue(v)) + 0.5;
          ctx.moveTo(a.left, py);
          ctx.lineTo(a.left + tl, py);
          ctx.moveTo(a.right, py);
          ctx.lineTo(a.right - tl, py);
        });
        ctx.stroke();
        ctx.lineWidth = 1.6;
        ctx.strokeRect(a.left, a.top, a.right - a.left, a.bottom - a.top);
        ctx.fillStyle = "#000";
        ctx.textAlign = "left";
        ctx.textBaseline = "alphabetic";
        p.texts.forEach((t) => drawParts(ctx, t));
        ctx.restore();
      },
    };
    const datasets: any[] = p.lines.map((l) => ({
      data: l.pts.map(([x, y]) => ({ x, y })),
      showLine: true,
      borderColor: "#000",
      borderWidth: l.width,
      borderDash: l.dash,
      pointRadius: 0,
      pointHoverRadius: 0,
      fill: false,
      tension: 0,
    }));
    datasets.push({
      data: p.stars.map(([x, y]) => ({ x, y })),
      showLine: false,
      pointRadius: 3,
      pointHoverRadius: 3,
      backgroundColor: "#000",
      borderColor: "#000",
      borderWidth: 0,
    });
    const chart = new Chart(canvas, {
      type: "scatter",
      data: { datasets },
      options: {
        responsive: false,
        animation: false,
        devicePixelRatio: 1,
        events: [],
        layout: { padding: { top: 5, bottom: 0, left: p.padLeft, right: p.padRight } },
        plugins: { legend: { display: false }, tooltip: { enabled: false } },
        scales: {
          x: {
            type: "linear",
            position: "bottom",
            min: p.xMin,
            max: p.xMax,
            afterBuildTicks: (s: any) => {
              s.ticks = p.xLabels.map((v) => ({ value: v }));
            },
            afterFit: (s: any) => {
              s.height = 51;
              s.paddingLeft = 0;
              s.paddingRight = 0;
            },
            ticks: {
              autoSkip: false,
              maxRotation: 0,
              minRotation: 0,
              padding: 8,
              color: "#000",
              font: { family: FONT, size: 16 },
              callback: (v: any) => Number(v).toFixed(1),
            },
            grid: { display: false, drawTicks: false },
            border: { display: false },
          },
          y: {
            type: "linear",
            reverse: true,
            min: magMin,
            max: magMax,
            display: p.showY,
            afterBuildTicks: (s: any) => {
              s.ticks = magLabelTicks.map((v) => ({ value: v }));
            },
            afterFit: (s: any) => {
              s.width = p.showY ? 43 : 0;
              s.paddingTop = 0;
              s.paddingBottom = 0;
            },
            ticks: {
              autoSkip: false,
              padding: 11,
              color: "#000",
              font: { family: FONT, size: 16 },
              callback: (v: any) => (Number(v) < 0 ? "\u2212" + Math.abs(Number(v)) : String(v)),
            },
            grid: { display: false, drawTicks: false },
            border: { display: false },
          },
        },
      },
      plugins: [frame],
    } as any);
    return () => chart.destroy();
  }, []);
  return (
    <canvas
      ref={ref}
      width={p.width}
      height={804}
      style={{ position: "absolute", left: p.left, top: 0, width: p.width, height: 804, display: "block" }}
    />
  );
}

const leftTexts: TextItem[] = [
  { parts: [{ t: "Praesepium", size: 17, dy: 0 }], x: 56, y: 39, align: "left" },
  { parts: [{ t: "z = 0.030", size: 17, dy: 0 }], x: 73, y: 84, align: "left" },
  { parts: [{ t: "Age = 708Myr", size: 17, dy: 0 }], x: 73, y: 109, align: "left" },
  { parts: [{ t: "M", size: 18, dy: 0 }, { t: "J", size: 11, dy: 4 }], x: 0, y: 380, align: "left" },
  {
    parts: [{ t: "(J\u2013H)", size: 16, dy: 0 }, { t: "O", size: 11, dy: 7 }],
    x: 171.5, y: 796, align: "center",
  },
];

const rightTexts: TextItem[] = [
  { parts: [{ t: "M", size: 18, dy: 0 }, { t: "K", size: 11, dy: 5 }, { t: "S", size: 8, dy: 9 }], x: 268, y: 383, align: "left" },
  {
    parts: [
      { t: "(J\u2013K", size: 16, dy: 0 },
      { t: "S", size: 10, dy: 4 },
      { t: ")", size: 16, dy: 0 },
      { t: "O", size: 11, dy: 7 },
    ],
    x: 130.5, y: 796, align: "center",
  },
];

export default function App() {
  return (
    <div style={{ position: "fixed", left: 0, top: 0, width: 598, height: 804, background: "#fff", overflow: "hidden" }}>
      <Panel
        left={0}
        width={301}
        xMin={jhMin}
        xMax={jhMax}
        xLabels={jhLabelTicks}
        xMinor={jhMinorTicks}
        stars={jhStars}
        lines={[
          { pts: jhIsochrone, width: 1.7, dash: [] },
          { pts: jhLoopA, width: 1.4, dash: [] },
          { pts: jhLoopB, width: 1.4, dash: [] },
          { pts: jhDotted, width: 1, dash: [2, 2] },
          { pts: jhZams, width: 1.6, dash: [10, 6] },
        ]}
        padLeft={0}
        padRight={1}
        showY={true}
        texts={leftTexts}
      />
      <Panel
        left={301}
        width={297}
        xMin={jkMin}
        xMax={jkMax}
        xLabels={jkLabelTicks}
        xMinor={jkMinorTicks}
        stars={jkStars}
        lines={[
          { pts: jkIsochrone, width: 1.7, dash: [] },
          { pts: jkLoopA, width: 1.4, dash: [] },
          { pts: jkLoopB, width: 1.4, dash: [] },
          { pts: jkDotted, width: 1, dash: [2, 2] },
          { pts: jkZams, width: 1.6, dash: [10, 6] },
        ]}
        padLeft={1}
        padRight={37}
        showY={false}
        texts={rightTexts}
      />
    </div>
  );
}
